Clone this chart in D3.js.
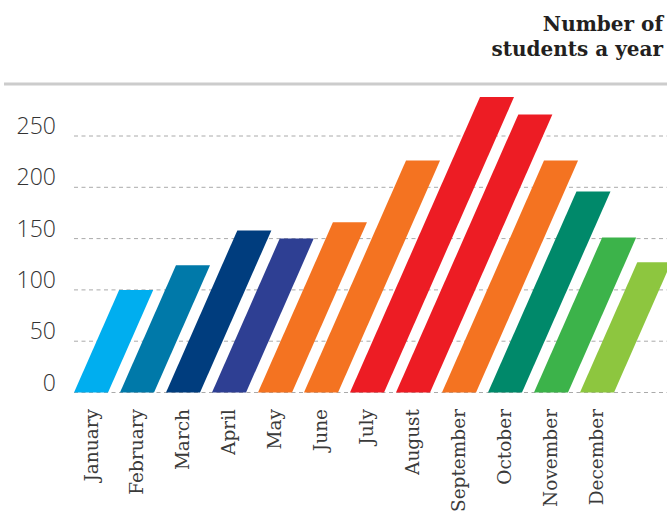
<!DOCTYPE html>
<html>
<head>
<meta charset="utf-8">
<script src="https://cdn.jsdelivr.net/npm/d3@7"></script>
<style>
  body { margin: 0; background: #fff; }
  .tick_styling { font-family: "Open Sans", sans-serif; font-weight: 300; font-size: 23px; fill: #333; }
  .month_styling { font-family: "DejaVu Serif", serif; font-size: 18.5px; fill: #3a3a3a; }
  .title_styling { font-family: "DejaVu Serif", serif; font-weight: bold; font-size: 20px; fill: #231f20; }
</style>
</head>
<body>
<div id="viz"></div>
<script>
const months = ["January", "February", "March", "April", "May", "June",
                "July", "August", "September", "October", "November", "December"];
const students = [100, 124, 158, 150, 166, 226, 288, 271, 226, 196, 151, 127];
const barColors = ["#00aeef", "#0079a9", "#003d7e", "#2e3f93", "#f47321", "#f47321",
                   "#ed1c24", "#ed1c24", "#f47321", "#00896a", "#3cb34a", "#8dc63f"];
const yTicks = [0, 50, 100, 150, 200, 250];
const titleLines = ["Number of", "students a year"];

const width = 667;
const height = 512;
const slant = 0.44; // x shift per px of bar height

const svg = d3.select("#viz")
    .append("svg")
    .attr("width", width)
    .attr("height", height);

// scales
const x = d3.scaleBand()
    .domain(months)
    .range([74, 614])
    .paddingInner(0.26)
    .paddingOuter(0);

const y = d3.scaleLinear()
    .domain([0, 250])
    .range([392.5, 136]);

// title
svg.append("g")
    .selectAll("text")
    .data(titleLines)
    .enter()
    .append("text")
        .attr("class", "title_styling")
        .attr("x", 663)
        .attr("y", (d, i) => 31 + i * 24.5)
        .attr("text-anchor", "end")
        .text(d => d);

// top rule
svg.append("line")
    .attr("x1", 4)
    .attr("x2", width)
    .attr("y1", 84)
    .attr("y2", 84)
    .attr("stroke", "#cccccc")
    .attr("stroke-width", 3);

// gridlines + tick labels
const grid = svg.append("g").attr("class", "grid");
grid.selectAll("line")
    .data(yTicks)
    .enter()
    .append("line")
        .attr("x1", 74)
        .attr("x2", width)
        .attr("y1", d => y(d))
        .attr("y2", d => y(d))
        .attr("stroke", "#aaaaaa")
        .attr("stroke-width", 1)
        .attr("stroke-dasharray", "4,3.5");

grid.selectAll("text")
    .data(yTicks)
    .enter()
    .append("text")
        .attr("class", "tick_styling")
        .attr("x", 56)
        .attr("y", d => y(d) - 2)
        .attr("text-anchor", "end")
        .text(d => d);

// slanted bars
svg.append("g")
    .attr("class", "bars")
    .selectAll("path")
    .data(students)
    .enter()
    .append("path")
        .attr("fill", (d, i) => barColors[i])
        .attr("d", (d, i) => {
            const x0 = x(months[i]);
            const w = x.bandwidth();
            const y0 = y(0);
            const y1 = y(d);
            const shift = (y0 - y1) * slant;
            return "M" + x0 + "," + y0 +
                   "L" + (x0 + w) + "," + y0 +
                   "L" + (x0 + w + shift) + "," + y1 +
                   "L" + (x0 + shift) + "," + y1 + "Z";
        });

// month labels
svg.append("g")
    .selectAll("text")
    .data(months)
    .enter()
    .append("text")
        .attr("class", "month_styling")
        .attr("transform", d => "translate(" + (x(d) + x.bandwidth() / 2) + ",409) rotate(-90)")
        .attr("dy", "0.35em")
        .attr("text-anchor", "end")
        .text(d => d);
</script>
</body>
</html>
